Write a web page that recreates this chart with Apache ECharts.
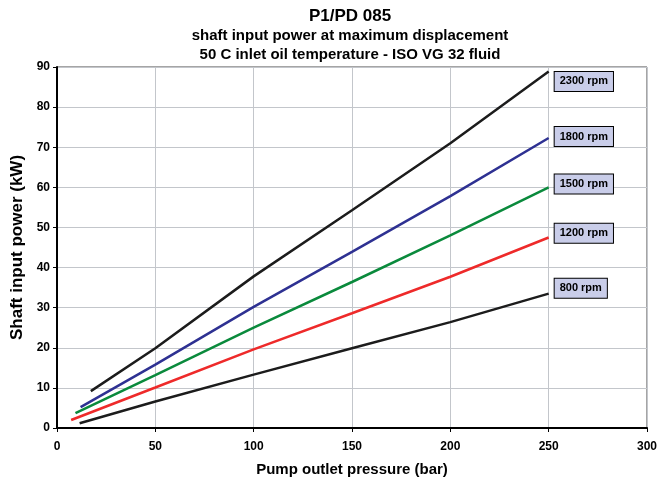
<!DOCTYPE html>
<html>
<head>
<meta charset="utf-8">
<script src="https://cdn.jsdelivr.net/npm/echarts@6/dist/echarts.min.js"></script>
<style>html,body{margin:0;padding:0;background:#fff;}#c{width:668px;height:479px;}</style>
</head>
<body>
<div id="c"></div>
<script>
// ---- data ----
var seriesNames = ['2300 rpm', '1800 rpm', '1500 rpm', '1200 rpm', '800 rpm'];
var p2300 = [17.2, 50, 100, 150, 200, 250];
var w2300 = [9.2, 19.9, 37.8, 54.3, 71.0, 88.9];
var p1800 = [12.0, 50, 100, 150, 200, 250];
var w1800 = [5.2, 15.8, 30.2, 43.9, 57.8, 72.3];
var p1500 = [9.4, 50, 100, 150, 200, 250];
var w1500 = [3.7, 13.2, 25.0, 36.4, 48.0, 60.0];
var p1200 = [7.2, 50, 100, 150, 200, 250];
var w1200 = [2.0, 10.1, 19.6, 28.6, 37.7, 47.5];
var p800 = [11.5, 50, 100, 150, 200, 250];
var w800 = [1.2, 6.6, 13.3, 19.9, 26.4, 33.5];
var xTicks = [0, 50, 100, 150, 200, 250, 300];
var yTicks = [0, 10, 20, 30, 40, 50, 60, 70, 80, 90];

var pressures = [p2300, p1800, p1500, p1200, p800];
var powers = [w2300, w1800, w1500, w1200, w800];
var colors = ['#1c1c1c', '#2e3192', '#0a8a3c', '#ee2a2a', '#1c1c1c'];
var labelDy = [10, -1.5, -3.3, -4.3, -5.3];

function pairs(xs, ys) { return xs.map(function (x, i) { return [x, ys[i]]; }); }

var FONT = '"Liberation Sans", Arial, sans-serif';

var series = seriesNames.map(function (name, i) {
  return {
    name: name,
    type: 'line',
    data: pairs(pressures[i], powers[i]),
    showSymbol: false,
    symbol: 'none',
    smooth: false,
    lineStyle: { color: colors[i], width: 2.5 },
    itemStyle: { color: colors[i] },
    animation: false,
    endLabel: {
      show: true,
      formatter: name,
      position: 'right',
      distance: 6,
      offset: [0, labelDy[i]],
      fontFamily: FONT,
      fontSize: 11,
      fontWeight: 'bold',
      color: '#000',
      backgroundColor: '#c9cde9',
      borderColor: '#000',
      borderWidth: 1,
      padding: [4, 5, 4, 5]
    }
  };
});

var chart = echarts.init(document.getElementById('c'), null, { renderer: 'canvas' });
chart.setOption({
  animation: false,
  backgroundColor: '#fff',
  title: [{
    text: 'P1/PD 085',
    left: 350,
    textAlign: 'center',
    top: 7,
    padding: 0,
    textStyle: { fontFamily: FONT, fontSize: 17, fontWeight: 'bold', color: '#000', lineHeight: 18 }
  }, {
    text: 'shaft input power at maximum displacement\n50 C inlet oil temperature - ISO VG 32 fluid',
    left: 350,
    textAlign: 'center',
    top: 27,
    padding: 0,
    textStyle: { fontFamily: FONT, fontSize: 15, fontWeight: 'bold', color: '#000', lineHeight: 18.3 }
  }],
  grid: {
    left: 57, right: 21, top: 67, bottom: 51,
    show: true, borderColor: '#4a4a4a', borderWidth: 1,
    containLabel: false,
    outerBoundsMode: 'none'
  },
  xAxis: {
    type: 'value', min: 0, max: 300, interval: 50,
    name: 'Pump outlet pressure (bar)',
    nameLocation: 'middle', nameGap: 34,
    nameTextStyle: { fontFamily: FONT, fontSize: 15, fontWeight: 'bold', color: '#000' },
    axisLine: { show: true, onZero: false, lineStyle: { color: '#000', width: 2 } },
    axisTick: { show: true, length: 4, lineStyle: { color: '#000', width: 1 } },
    axisLabel: { fontFamily: FONT, fontSize: 12, fontWeight: 'bold', color: '#000', margin: 13,
      formatter: function (v) { return xTicks.indexOf(v) >= 0 ? String(v) : ''; } },
    splitLine: { show: true, lineStyle: { color: '#c3c6cb', width: 1 } }
  },
  yAxis: {
    type: 'value', min: 0, max: 90, interval: 10,
    name: 'Shaft input power (kW)',
    nameLocation: 'middle', nameGap: 24, nameRotate: 90,
    nameTextStyle: { fontFamily: FONT, fontSize: 17, fontWeight: 'bold', color: '#000' },
    axisLine: { show: true, onZero: false, lineStyle: { color: '#000', width: 2 } },
    axisTick: { show: true, length: 4, lineStyle: { color: '#000', width: 1 } },
    axisLabel: { fontFamily: FONT, fontSize: 12, fontWeight: 'bold', color: '#000', margin: 7,
      formatter: function (v) { return yTicks.indexOf(v) >= 0 ? String(v) : ''; } },
    splitLine: { show: true, lineStyle: { color: '#c3c6cb', width: 1 } }
  },
  series: series
});
</script>
</body>
</html>
